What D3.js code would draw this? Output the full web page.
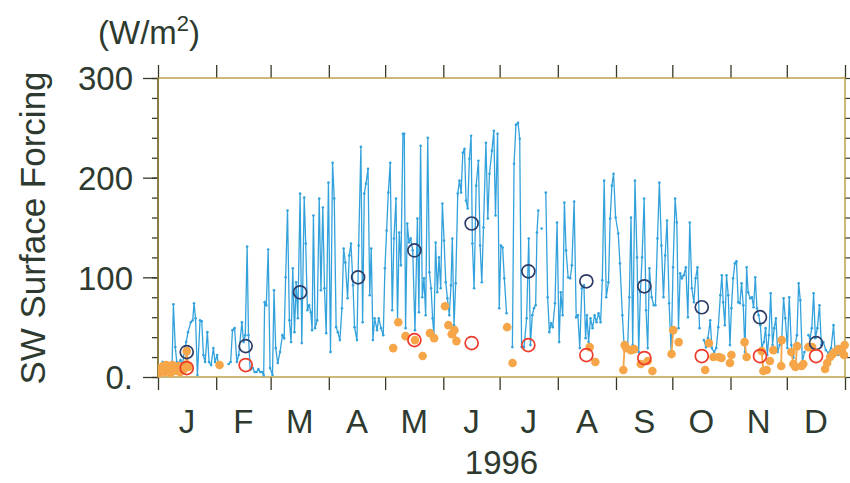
<!DOCTYPE html>
<html>
<head>
<meta charset="utf-8">
<script src="https://cdn.jsdelivr.net/npm/d3@7"></script>
<style>
  body { margin: 0; background: #fff; }
  text { font-family: "Liberation Sans", Arial, Helvetica, sans-serif; fill: #2e3a2f; }
</style>
</head>
<body>
<div id="chart"></div>
<script>
// month names and first day of each month (1996, leap year)
let monthNames = ["J", "F", "M", "A", "M", "J", "J", "A", "S", "O", "N", "D"];
let monthStarts = [0, 31, 60, 91, 121, 152, 182, 213, 244, 274, 305, 335, 366];
let yTicks = [0, 100, 200, 300];
let yTickLabels = ["0.", "100", "200", "300"];

// daily SW surface forcing (blue line), day of year / value, null = gap
let swDays = [0.5, 1.5, 2.5, 3.5, 4.5, 5.5, 6.5, 7.5, 8.2, 9.2, 10, 11, 12, 13, 14, 15, 16, 17.5, 18.5, 19.2, 20, 21, 22.4, 23.3, 24.2, 25.1, 26.3, 27.2, 28.3, 29.5, 30.4, 31.5, 32.2, 35,
  37.6, 38.7, 39.7, 40.8, 42, 43, 44.7, 45.6, 46.5, 47.5, 48.2, 49.1, 50.5, 51.5, 52.5, 53.5, 54.5, 55.4, 56.3, 56.8, 57.7, 58.7, 59.7, 61, 61.8, 62.7, 63.8, 65, 66.3, 67.2, 68, 69, 70, 70.9, 71.8, 72.7, 73.6, 74.5, 75.7, 76.6, 77.9, 78.7, 79.6, 80.5, 81.4, 82.1, 82.8, 83.7, 84.8, 85.9, 86.8, 87.8, 88.7, 89.6, 90.8, 91.9, 93, 93.9, 94.9, 95.8, 96.9, 98, 98.9, 99.8,
  101, 101.9, 102.8, 103.9, 104.7, 106, 106.9, 108.1, 109, 109.9, 110.8, 111.9, 112.8, 113.6, 114.5, 115.4, 116.7, 117.6, 118.8, 120, 120.9, 121.8, 122.7, 123.7, 124.8, 125.7, 126.8, 127.6, 128.5, 129.4, 130.5, 131.2, 131.9, 132.8, 133.7, 134.6, 135.7, 136.9, 138.2, 139, 139.9, 140.8, 141.7, 142.6, 143.7, 144.6, 145.5, 146.3, 147, 147.9, 148.8, 149.7, 150.6, 151.5, 152.4, 153.3, 154.2, 155.2, 156.1, 156.8, 157.7, 158.6, 159.7, 160.6, 161.5, 162.4, 163.3, 164.1, 165, 165.9, 166.8, 167.5, 168.4, 169.5, 170.7, 171.6, 172.5, 173.4, 174.7, 175.7, 176.6, 177.9, 178.9, 179.8, 180.9, 181.8, 182.7, 183.6, 184.5, 185.7, 187,
  188.8, 189.7, 190.7, 191.8, 192.7, 193.7, 195, 196.4, 197.5, 198.4, 199.4, 200.3, 201.2, 201.9, 202.6, 203.5, 204.4, 205.5, 206.6, 207.6, 208.5, 209.4, 210.3, 211.5, 212.6, 213.7, 214.6, 215.6, 216.5, 217.4, 218.5, 219.6, 220.5, 221.7, 222.8, 223.7, 224.7, 225.8, 226.9, 227.8, 228.5, 229.4, 230.4, 231.5, 232.6, 233.6, 234.7, 235.8, 236.7, 237.7, 238.8, 240, 240.9, 241.8, 242.7, 243.8, 245.2, 246.1, 247.4, 248.3, 249.3, 250.2, 251.1, 252, 252.9, 254.1, 255.2, 256.1, 257, 257.9, 259, 260, 260.9, 261.8, 263, 264.1, 265, 266.1, 267.1, 268.2, 269.3, 270.2, 271.2, 272.3, 273.4, 274.4, 275.5, 276.4, 277.3, 278.2, 279.1, 280.1, 281.2, 282.3, 283.3, 284.4, 285.5, 286.4, 287.4, 288.5, 289.6,
  290.8, 291.9, 293, 294.2, 295.1, 296.3, 297.4, 298.5, 299.6, 300.4, 301.1, 302, 302.9, 303.8, 304.7, 305.5, 306.4, 307.3, 308.2, 309.1, 310, 310.9, 311.8, 312.7, 313.6, 314.4, 315.5, 316.4, 317.3, 318.2, 319.1, 320, 320.9, 321.7, 322.8, 323.7, 324.6, 325.5, 326.4, 327.4, 328.3, 329.2, 330.1, 331.2, 332.2, 333.3, 334.2, 335.3, 336.3, 337.4, 338.5, 339.4, 340.4, 341.3, 342.2, 343.3, 344.4, 345.5,
  346.5, 347.4, 348.3, 349.3, 350.2, 351.3, 352.4, 353.4, 354.5, 355.8, 357.2, 358.6, 359.9, 360.7, 362.5, 364.3];
let swValues = [6, 10, 15, 8, 12, 10, 14, 12, 73, 30, 15, 14, 17, 12, 25, 35, 45, 55, 57, 74, 59, 2, 57, 56, 22, 15, 45, 15, 12, 29, 15, 22, 12, null,
  13, 15, 47, 49, 15, 22, 55, 35, 42, 131, 42, 7, 9, 5, 5, 8, 5, 5, 2, 75, 72, 128, 9, 2, 87, 29, 14, 25, 42, 39, 100, 167, 57, 35, 109, 45, 95, 59, 184, 34, 180, 134, 67, 72, 65, 47, 162, 49, 57, 179, 87, 170, 89, 44, 195, 25, 215, 179, 50, 45, 37, 69, 129, 115,
  79, 122, 134, 92, 50, 37, 132, 231, 55, 184, 194, 209, 82, 129, 37, 59, 47, 59, 49, 42, 109, 147, 185, 215, 67, 139, 179, 55, 145, 112, 244, 244, 49, 154, 135, 139, 127, 47, 159, 65, 232, 80, 99, 62, 240, 105, 89, 59, 42, 135, 85, 120, 89, 174, 137, 95, 79, 62, 92, 139, 52, 94, 184, 197, 185, 225, 229, 177, 169, 219, 242, 134, 89, 192, 217, 132, 95, 150, 235, 159, 204, 227, 247, 162, 244, 69, 132, 130, 99, 64, null,
  30, 214, 253, 255, 239, 30, 30, 59, 139, 32, 62, 69, 72, 145, 167, null, 149, null, 185, 80, 45, 54, 50, 74, 155, 35, 85, 62, 175, 127, 100, 99, 112, 176, 60, 62, 29, 89, 92, 39, 62, 35, 59, 49, 62, 55, 64, 55, 97, 197, 80, 95, 159, 192, 204, 160, 144, 114, 62, 32, 30, 29, 80, 160, 32, 197, 120, 25, 85, 120, 179, 67, 29, 109, 80, 72, 72, 139, 195, 132, 80, 122, 157, 74, 24, 110, 179, 155, 49, 104, 99, 102, 110, 60, 155, 89, 75, 99, 110, 49, null,
  37, 30, 39, 57, 29, 25, 29, 50, 82, 102, 75, 52, 102, 82, 32, 69, 99, 114, 116, 75, 74, 94, 72, 25, 110, 85, 79, 80, 70, 100, 69, 62, 52, 30, 35, 49, 22, 42, 84, 32, 49, 59, 25, 32, 35, 79, 59, 29, 80, 32, 19, 32, 42, 94, 77, 15, 25, null,
  42, 39, 49, 84, 39, 49, 72, 32, 35, 27, 24, 29, 52, 27, 22, 25];

// orange filled dots
let orDays = [0.5, 1.3, 2, 2.8, 3.6, 4.4, 5.2, 6, 6.8, 7.6, 8.5, 9.3, 10.2, 11, 11.8, 12.7, 13.5, 14.5, 15.3, 16.2, 32.8,
  125.3, 128, 131.9, 136.9, 141, 144.9, 147.1, 152.9, 154.7, 156.5, 157.9, 159,
  186, 188.9, 230, 233,
  247.9, 248.6, 249.5, 252, 253.7, 257.2, 260.9, 263.4, 273.6, 274.5, 277.4,
  291.5, 293.5, 295.9, 298.8, 300.2, 304.7, 305.5, 312.5, 313.6,
  321.6, 322.5, 324.3, 326, 327.8, 332, 332.3, 337.4, 338.5, 339.6, 340.5, 342.9, 343.8, 346.5, 348.5,
  355.4, 356.5, 358.1, 359.5, 360.7, 362.5, 364.3, 365.5, 365.8];
let orValues = [4, 9, 6, 11, 5, 12, 8, 10, 4, 12, 7, 10, 6, 11, 5, 9, 7, 12, 26, 10, 12,
  29, 55, 41, 37, 21, 44, 39, 71, 52, 43, 47, 36,
  50, 14, 30, 15,
  7, 32, 29, 27, 28, 13, 16, 6, 23, 47, 35,
  7, 34, 20, 20, 19, 14, 22, 35, 20,
  26, 6, 7, 16, 27, 11, 37, 25, 13, 10, 31, 11, 13, 30, 30,
  8, 14, 20, 23, 25, 28, 25, 22, 32];

// monthly means (open circles)
let meanDays = [15.3, 46.7, 75.7, 106.6, 136.6, 167.1, 197.3, 228.2, 259.1, 289.7, 320.7, 350.6];
let blueMeans = [25, 31, 85, 100, 127, 154, 106, 96, 91, 70, 60, 34];
let orangeMeans = [9, 12, null, null, 37, 34, 32, 22, 19, 21, 21, 21];

var W = 850, H = 483;
var pLeft = 158, pRight = 845, pTop = 78, pBottom = 377;

var svg = d3.select("#chart").append("svg")
  .attr("width", W)
  .attr("height", H);

var x = d3.scaleLinear().domain([0, 366]).range([pLeft, pRight]);
var y = d3.scaleLinear().domain([0, 300]).range([pBottom, pTop]);

var tickColor = "#3a3826";
var frameColor = "#b79a3e";
var fontSize = 33;

// minor y ticks every 20
var minor = d3.range(0, 301, 20);

// left axis
svg.append("g")
  .attr("transform", "translate(" + pLeft + ",0)")
  .call(d3.axisLeft(y).tickValues(minor).tickSize(6).tickFormat(""))
  .call(g => g.select(".domain").remove())
  .call(g => g.selectAll("line").attr("stroke", tickColor).attr("stroke-width", 1.3));
svg.append("g")
  .attr("transform", "translate(" + pLeft + ",0)")
  .call(d3.axisLeft(y).tickValues(yTicks).tickSize(15).tickPadding(10)
    .tickFormat((d, i) => yTickLabels[i]))
  .call(g => g.select(".domain").remove())
  .call(g => g.selectAll("line").attr("stroke", tickColor).attr("stroke-width", 1.3))
  .call(g => g.selectAll("text")
    .attr("font-size", fontSize)
    .attr("font-family", "Liberation Sans, Arial, sans-serif")
    .attr("fill", "#2e3a2f")
    .attr("dy", "0.36em"));

// right axis
svg.append("g")
  .attr("transform", "translate(" + pRight + ",0)")
  .call(d3.axisRight(y).tickValues(minor).tickSize(5).tickFormat(""))
  .call(g => g.select(".domain").remove())
  .call(g => g.selectAll("line").attr("stroke", tickColor).attr("stroke-width", 1.2));

// bottom + top month ticks
svg.append("g")
  .attr("transform", "translate(0," + pBottom + ")")
  .call(d3.axisBottom(x).tickValues(monthStarts).tickSize(13).tickFormat(""))
  .call(g => g.select(".domain").remove())
  .call(g => g.selectAll("line").attr("stroke", tickColor).attr("stroke-width", 1.3));
svg.append("g")
  .attr("transform", "translate(0," + pTop + ")")
  .call(d3.axisTop(x).tickValues(monthStarts).tickSize(13).tickFormat(""))
  .call(g => g.select(".domain").remove())
  .call(g => g.selectAll("line").attr("stroke", tickColor).attr("stroke-width", 1.3));

// month letters centred in each month
svg.append("g").selectAll("text")
  .data(monthNames)
  .join("text")
  .attr("x", (d, i) => x((monthStarts[i] + monthStarts[i + 1]) / 2))
  .attr("y", 433)
  .attr("text-anchor", "middle")
  .attr("font-size", fontSize)
  .text(d => d);

svg.append("text")
  .attr("x", x(183))
  .attr("y", 474)
  .attr("text-anchor", "middle")
  .attr("font-size", fontSize)
  .text("1996");

// units + y title
var units = svg.append("text")
  .attr("x", 98)
  .attr("y", 44)
  .attr("font-size", fontSize);
units.append("tspan").text("(W/m");
units.append("tspan").attr("font-size", 22).attr("dy", -13).text("2");
units.append("tspan").attr("dy", 13).text(")");

svg.append("text")
  .attr("transform", "translate(45,228) rotate(-90)")
  .attr("text-anchor", "middle")
  .attr("font-size", 35)
  .text("SW Surface Forcing");

// frame
svg.append("rect")
  .attr("x", pLeft).attr("y", pTop)
  .attr("width", pRight - pLeft).attr("height", pBottom - pTop)
  .attr("fill", "none")
  .attr("stroke", frameColor)
  .attr("stroke-width", 1.4);
svg.append("line")
  .attr("x1", pLeft).attr("x2", pLeft).attr("y1", pTop).attr("y2", pBottom)
  .attr("stroke", "#6e6534").attr("stroke-width", 1.4);

// clip to plot
svg.append("clipPath").attr("id", "plot")
  .append("rect").attr("x", pLeft).attr("y", pTop - 6)
  .attr("width", pRight - pLeft + 4).attr("height", pBottom - pTop + 10);

var plot = svg.append("g").attr("clip-path", "url(#plot)");

// blue daily line
var swData = swDays.map((d, i) => ({day: d, v: swValues[i]}));
plot.append("path")
  .datum(swData)
  .attr("fill", "none")
  .attr("stroke", "#33a2dc")
  .attr("stroke-width", 1.3)
  .attr("d", d3.line()
    .defined(d => d.v !== null)
    .x(d => x(d.day))
    .y(d => y(d.v)));
plot.append("g").selectAll("circle")
  .data(swData.filter(d => d.v !== null))
  .join("circle")
  .attr("cx", d => x(d.day))
  .attr("cy", d => y(d.v))
  .attr("r", 1.3)
  .attr("fill", "#33a2dc");

// orange dots, consecutive days linked
var orData = orDays.map((d, i) => ({day: d, v: orValues[i]}));
var orSegs = [];
orData.forEach((d, i) => {
  if (i > 0 && d.day - orData[i - 1].day < 1.3) orSegs.push([orData[i - 1], d]);
});
plot.append("g").selectAll("line")
  .data(orSegs)
  .join("line")
  .attr("x1", d => x(d[0].day)).attr("y1", d => y(d[0].v))
  .attr("x2", d => x(d[1].day)).attr("y2", d => y(d[1].v))
  .attr("stroke", "#f6a648")
  .attr("stroke-width", 1.8);
plot.append("g").selectAll("circle")
  .data(orData)
  .join("circle")
  .attr("cx", d => x(d.day))
  .attr("cy", d => y(d.v))
  .attr("r", 4.3)
  .attr("fill", "#f6a648");

// monthly mean circles
plot.append("g").selectAll("circle")
  .data(meanDays.map((d, i) => ({day: d, v: blueMeans[i]})))
  .join("circle")
  .attr("cx", d => x(d.day))
  .attr("cy", d => y(d.v))
  .attr("r", 6.5)
  .attr("fill", "none")
  .attr("stroke", "#2c3c66")
  .attr("stroke-width", 1.7);
plot.append("g").selectAll("circle")
  .data(meanDays.map((d, i) => ({day: d, v: orangeMeans[i]})).filter(d => d.v !== null))
  .join("circle")
  .attr("cx", d => x(d.day))
  .attr("cy", d => y(d.v))
  .attr("r", 6.5)
  .attr("fill", "none")
  .attr("stroke", "#ec3b2a")
  .attr("stroke-width", 1.7);
</script>
</body>
</html>
